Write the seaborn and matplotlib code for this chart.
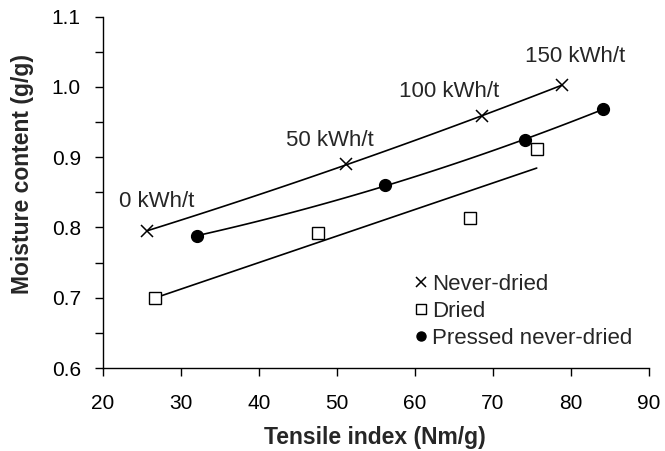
import matplotlib
matplotlib.use("Agg")
import matplotlib.pyplot as plt
import seaborn as sns
import numpy as np
from matplotlib.ticker import MultipleLocator

sns.set_style("ticks")
plt.rcParams['font.family'] = ['Liberation Sans', 'DejaVu Sans']

# Data
never_x = [25.6, 51.2, 68.6, 78.8]
never_y = [0.795, 0.890, 0.958, 1.003]
dried_x = [26.7, 47.5, 67.0, 75.6]
dried_y = [0.699, 0.792, 0.813, 0.911]
pressed_x = [32.0, 56.1, 74.1, 84.1]
pressed_y = [0.788, 0.860, 0.924, 0.969]
energy_labels = ["0 kWh/t", "50 kWh/t", "100 kWh/t", "150 kWh/t"]
label_x = [26.9, 49.1, 64.4, 80.5]
label_y = [0.837, 0.924, 0.993, 1.043]

fig = plt.figure(figsize=(6.65, 4.51), dpi=100)
ax = fig.add_axes([0.155, 0.184, 0.821, 0.779])

# trendlines
sns.regplot(x=np.array(never_x), y=np.array(never_y), order=2, ci=None, scatter=False,
            line_kws=dict(color='black', lw=1.2), ax=ax, truncate=True)
sns.regplot(x=np.array(dried_x), y=np.array(dried_y), order=1, ci=None, scatter=False,
            line_kws=dict(color='black', lw=1.2), ax=ax, truncate=True)
sns.regplot(x=np.array(pressed_x), y=np.array(pressed_y), order=2, ci=None, scatter=False,
            line_kws=dict(color='black', lw=1.2), ax=ax, truncate=True)

# markers
ax.plot(never_x, never_y, linestyle='none', marker='x', ms=9, mew=1.1, color='black',
        label='Never-dried', zorder=5)
ax.plot(dried_x, dried_y, linestyle='none', marker='s', ms=8, mew=1.0, mfc='white',
        mec='black', label='Dried', zorder=5)
ax.plot(pressed_x, pressed_y, linestyle='none', marker='o', ms=8.5, color='black',
        label='Pressed never-dried', zorder=5)

for t, x, y in zip(energy_labels, label_x, label_y):
    ax.text(x, y, t, ha='center', va='center', fontsize=16)

ax.set_xlim(20, 90)
ax.set_ylim(0.6, 1.1)
ax.xaxis.set_major_locator(MultipleLocator(10))
ax.yaxis.set_major_locator(MultipleLocator(0.1))
ax.yaxis.set_minor_locator(MultipleLocator(0.05))
ax.yaxis.set_major_formatter(matplotlib.ticker.FormatStrFormatter('%.1f'))
ax.tick_params(axis='both', which='both', direction='out', length=6, width=1,
               color='black', labelsize=15, labelcolor='black')
ax.tick_params(axis='y', which='major', pad=10)
ax.tick_params(axis='x', which='major', pad=13)
for s in ['top', 'right']:
    ax.spines[s].set_visible(False)
for s in ['left', 'bottom']:
    ax.spines[s].set_color('black')
    ax.spines[s].set_linewidth(1)

ax.set_xlabel('Tensile index (Nm/g)', fontsize=16.5, fontweight='bold')
ax.set_ylabel('Moisture content (g/g)', fontsize=16.5, fontweight='bold')
ax.xaxis.set_label_coords(0.497, -0.165)
ax.yaxis.set_label_coords(-0.126, 0.551)

leg = ax.legend(loc='upper left', bbox_to_anchor=(0.562, 0.268), frameon=False,
                fontsize=16, handletextpad=0.0, handlelength=1.0, labelspacing=0.27,
                borderaxespad=0, borderpad=0)
for h in leg.legend_handles:
    h.set_markersize(6.5)

fig.savefig('out.png', dpi=100)
